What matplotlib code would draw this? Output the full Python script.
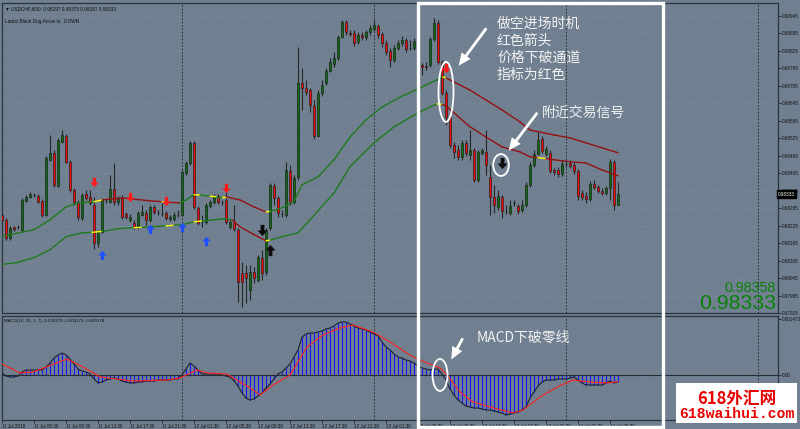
import numpy as np
import matplotlib
matplotlib.use("Agg")
import matplotlib.pyplot as plt
from matplotlib.patches import Rectangle, Ellipse, FancyArrowPatch
from matplotlib.collections import LineCollection
from matplotlib.path import Path
from matplotlib.transforms import blended_transform_factory

plt.rcParams['font.family'] = ['Noto Sans CJK SC', 'DejaVu Sans']

# USDCHF M30 candles, 11 Jul 01:30 onwards (one per bar)
opens = [0.98262, 0.98245, 0.98183, 0.98221, 0.98221, 0.98211, 0.98310, 0.98324, 0.98331, 0.98327,
         0.98310, 0.98262, 0.98451, 0.98475, 0.98361, 0.98512, 0.98533, 0.98444, 0.98348, 0.98307,
         0.98252, 0.98334, 0.98324, 0.98296, 0.98166, 0.98204, 0.98310, 0.98307, 0.98351, 0.98307,
         0.98320, 0.98266, 0.98245, 0.98235, 0.98221, 0.98262, 0.98269, 0.98245, 0.98289, 0.98269,
         0.98266, 0.98269, 0.98248, 0.98248, 0.98262, 0.98262, 0.98406, 0.98440, 0.98509, 0.98286,
         0.98238, 0.98238, 0.98293, 0.98307, 0.98327, 0.98307, 0.98313, 0.98221, 0.98238, 0.98211,
         0.98063, 0.98063, 0.98005, 0.98067, 0.98039, 0.98115, 0.98067, 0.98218, 0.98361, 0.98320,
         0.98266, 0.98262, 0.98413, 0.98307, 0.98392, 0.98714, 0.98697, 0.98690, 0.98636, 0.98533,
         0.98680, 0.98714, 0.98756, 0.98780, 0.98800, 0.98872, 0.98924, 0.98886, 0.98886, 0.98855,
         0.98879, 0.98872, 0.98889, 0.98900, 0.98910, 0.98882, 0.98852, 0.98824, 0.98793, 0.98834,
         0.98852, 0.98862, 0.98834, 0.98834, 0.98834, 0.98776, 0.98773, 0.98776, 0.98865, 0.98920,
         0.98786, 0.98680, 0.98598, 0.98502, 0.98485, 0.98461, 0.98509, 0.98468, 0.98485, 0.98382,
         0.98475, 0.98478, 0.98392, 0.98324, 0.98289, 0.98324, 0.98276, 0.98269, 0.98303, 0.98293,
         0.98279, 0.98296, 0.98365, 0.98433, 0.98471, 0.98523, 0.98471, 0.98475, 0.98416, 0.98416,
         0.98403, 0.98437, 0.98440, 0.98433, 0.98413, 0.98337, 0.98327, 0.98317, 0.98368, 0.98358,
         0.98344, 0.98337, 0.98355, 0.98444, 0.98297]
highs = [0.98269, 0.98252, 0.98224, 0.98224, 0.98228, 0.98320, 0.98331, 0.98341, 0.98337, 0.98334,
         0.98317, 0.98464, 0.98536, 0.98485, 0.98526, 0.98553, 0.98540, 0.98451, 0.98355, 0.98313,
         0.98337, 0.98348, 0.98348, 0.98324, 0.98211, 0.98320, 0.98317, 0.98399, 0.98440, 0.98327,
         0.98331, 0.98272, 0.98266, 0.98245, 0.98276, 0.98296, 0.98279, 0.98296, 0.98296, 0.98279,
         0.98303, 0.98276, 0.98262, 0.98272, 0.98279, 0.98416, 0.98447, 0.98516, 0.98516, 0.98293,
         0.98262, 0.98303, 0.98313, 0.98334, 0.98334, 0.98313, 0.98341, 0.98245, 0.98296, 0.98218,
         0.98101, 0.98091, 0.98091, 0.98084, 0.98125, 0.98142, 0.98218, 0.98372, 0.98372, 0.98327,
         0.98279, 0.98444, 0.98433, 0.98399, 0.98838, 0.98766, 0.98725, 0.98697, 0.98656, 0.98690,
         0.98725, 0.98766, 0.98800, 0.98821, 0.98879, 0.98930, 0.98930, 0.98896, 0.98896, 0.98889,
         0.98889, 0.98896, 0.98913, 0.98930, 0.98917, 0.98889, 0.98862, 0.98834, 0.98845, 0.98862,
         0.98876, 0.98869, 0.98862, 0.98869, 0.98841, 0.98783, 0.98786, 0.98872, 0.98937, 0.98930,
         0.98793, 0.98690, 0.98605, 0.98512, 0.98502, 0.98519, 0.98519, 0.98553, 0.98492, 0.98485,
         0.98492, 0.98553, 0.98433, 0.98365, 0.98348, 0.98331, 0.98296, 0.98313, 0.98313, 0.98300,
         0.98313, 0.98375, 0.98444, 0.98485, 0.98547, 0.98533, 0.98499, 0.98485, 0.98423, 0.98427,
         0.98451, 0.98451, 0.98451, 0.98444, 0.98420, 0.98348, 0.98341, 0.98379, 0.98382, 0.98365,
         0.98355, 0.98361, 0.98454, 0.98451, 0.98373]
lows = [0.98238, 0.98176, 0.98176, 0.98207, 0.98214, 0.98207, 0.98307, 0.98320, 0.98324, 0.98303,
        0.98255, 0.98259, 0.98447, 0.98358, 0.98358, 0.98509, 0.98440, 0.98341, 0.98296, 0.98245,
        0.98245, 0.98313, 0.98296, 0.98145, 0.98152, 0.98200, 0.98303, 0.98303, 0.98296, 0.98296,
        0.98248, 0.98248, 0.98238, 0.98214, 0.98214, 0.98259, 0.98228, 0.98238, 0.98266, 0.98262,
        0.98259, 0.98245, 0.98242, 0.98242, 0.98255, 0.98259, 0.98399, 0.98433, 0.98283, 0.98228,
        0.98221, 0.98231, 0.98286, 0.98300, 0.98300, 0.98296, 0.98231, 0.98214, 0.98207, 0.97964,
        0.97947, 0.97960, 0.97971, 0.98029, 0.98032, 0.98039, 0.98056, 0.98211, 0.98296, 0.98255,
        0.98255, 0.98255, 0.98296, 0.98300, 0.98382, 0.98622, 0.98673, 0.98615, 0.98523, 0.98529,
        0.98670, 0.98708, 0.98752, 0.98769, 0.98793, 0.98869, 0.98879, 0.98876, 0.98841, 0.98848,
        0.98862, 0.98862, 0.98879, 0.98893, 0.98869, 0.98838, 0.98810, 0.98769, 0.98786, 0.98827,
        0.98841, 0.98821, 0.98827, 0.98827, 0.98773, 0.98742, 0.98759, 0.98769, 0.98858, 0.98780,
        0.98673, 0.98571, 0.98492, 0.98457, 0.98451, 0.98451, 0.98464, 0.98451, 0.98375, 0.98375,
        0.98468, 0.98399, 0.98262, 0.98269, 0.98279, 0.98252, 0.98266, 0.98262, 0.98293, 0.98266,
        0.98272, 0.98289, 0.98358, 0.98427, 0.98468, 0.98475, 0.98464, 0.98406, 0.98399, 0.98392,
        0.98396, 0.98427, 0.98423, 0.98403, 0.98313, 0.98313, 0.98303, 0.98310, 0.98351, 0.98337,
        0.98331, 0.98331, 0.98313, 0.98279, 0.98297]
closes = [0.98245, 0.98183, 0.98218, 0.98214, 0.98219, 0.98313, 0.98324, 0.98334, 0.98329, 0.98307,
          0.98262, 0.98457, 0.98475, 0.98365, 0.98519, 0.98536, 0.98444, 0.98348, 0.98307, 0.98255,
          0.98331, 0.98320, 0.98303, 0.98166, 0.98204, 0.98313, 0.98308, 0.98351, 0.98307, 0.98317,
          0.98255, 0.98255, 0.98255, 0.98221, 0.98269, 0.98272, 0.98245, 0.98289, 0.98272, 0.98267,
          0.98264, 0.98252, 0.98255, 0.98262, 0.98260, 0.98409, 0.98440, 0.98509, 0.98289, 0.98235,
          0.98236, 0.98296, 0.98307, 0.98327, 0.98307, 0.98305, 0.98238, 0.98238, 0.98214, 0.98032,
          0.98032, 0.98046, 0.98067, 0.98046, 0.98118, 0.98063, 0.98211, 0.98365, 0.98320, 0.98269,
          0.98264, 0.98416, 0.98307, 0.98389, 0.98714, 0.98697, 0.98684, 0.98639, 0.98533, 0.98680,
          0.98708, 0.98756, 0.98786, 0.98800, 0.98872, 0.98924, 0.98889, 0.98884, 0.98852, 0.98879,
          0.98872, 0.98889, 0.98903, 0.98913, 0.98879, 0.98852, 0.98821, 0.98793, 0.98834, 0.98852,
          0.98862, 0.98831, 0.98833, 0.98858, 0.98780, 0.98769, 0.98771, 0.98865, 0.98920, 0.98786,
          0.98680, 0.98598, 0.98502, 0.98478, 0.98461, 0.98509, 0.98475, 0.98485, 0.98382, 0.98478,
          0.98485, 0.98433, 0.98324, 0.98296, 0.98327, 0.98276, 0.98274, 0.98293, 0.98301, 0.98276,
          0.98296, 0.98365, 0.98433, 0.98471, 0.98519, 0.98481, 0.98488, 0.98413, 0.98409, 0.98403,
          0.98437, 0.98435, 0.98430, 0.98413, 0.98327, 0.98324, 0.98317, 0.98368, 0.98358, 0.98344,
          0.98337, 0.98355, 0.98444, 0.98296, 0.98333]

# channel (upper / lower), knots at bar positions; segment colour g/r/y
upper_idx = [-0.5, 8, 12, 16, 19, 23, 25, 30, 37, 40, 41.5, 44.5, 46, 48, 49.5, 52, 53.5, 55, 56, 59.5,
             63, 66, 67, 69.5, 73, 75, 79, 83, 87, 91, 95, 99.5, 104, 107, 110.25, 111, 117, 121, 125,
             129.5, 132, 138, 142, 146, 150, 154]
upper_vals = [0.98187, 0.98211, 0.98245, 0.98289, 0.98303, 0.98307, 0.98313, 0.98320, 0.98310, 0.98307,
              0.98305, 0.98303, 0.98313, 0.98331, 0.98330, 0.98326, 0.98324, 0.98324, 0.98324, 0.98313,
              0.98289, 0.98272, 0.98274, 0.98283, 0.98307, 0.98365, 0.98392, 0.98451, 0.98529, 0.98588,
              0.98632, 0.98666, 0.98694, 0.98714, 0.98735, 0.98732, 0.98690, 0.98656, 0.98622, 0.98581,
              0.98553, 0.98536, 0.98526, 0.98509, 0.98492, 0.98475]
upper_cols = list("ggggg" "y" "rrr" "y" "r" "gg" "y" "g" "y" "g" "y" "rrr" "y"
                  "gggggggggggg" "y" "rrrrrrrrrr")
lower_idx = [-0.5, 3.75, 8, 12, 16, 20, 22.5, 25, 29, 33, 35, 37, 41, 43, 45, 48, 50, 53, 55, 57.5,
             59.5, 63, 66, 67, 70, 74, 77, 83, 87, 93, 98, 104, 107, 108.75, 110, 111, 113, 117, 121,
             125, 129.5, 132, 134, 136, 138, 142, 146, 150, 154]
lower_vals = [0.98091, 0.98098, 0.98115, 0.98142, 0.98187, 0.98200, 0.98202, 0.98205, 0.98214, 0.98218,
              0.98219, 0.98221, 0.98224, 0.98226, 0.98228, 0.98238, 0.98241, 0.98245, 0.98248, 0.98245,
              0.98221, 0.98194, 0.98173, 0.98175, 0.98187, 0.98200, 0.98245, 0.98337, 0.98427, 0.98509,
              0.98564, 0.98612, 0.98632, 0.98643, 0.98641, 0.98636, 0.98612, 0.98564, 0.98529, 0.98495,
              0.98478, 0.98461, 0.98458, 0.98455, 0.98451, 0.98444, 0.98440, 0.98416, 0.98396]
lower_cols = list("gggggg" "y" "gg" "y" "gg" "y" "gg" "y" "ggg" "rrr" "y"
                  "gggggggggg" "y" "rrrrrrrr" "y" "rrrrr")

# signal arrows (bar, price)
red_dn_idx = [23, 32, 41, 56, 111]
red_dn_px = [0.98375, 0.98324, 0.98310, 0.98355, 0.98766]
blue_up_idx = [25, 37, 45, 51]
blue_up_px = [0.98125, 0.98214, 0.98221, 0.98173]
black_dn_idx = [65, 125]
black_dn_px = [0.98211, 0.98440]
black_up_idx = [67]
black_up_px = [0.98142]

# MACD(10,20,1,7)
macd = [0.000053, -0.000026, -0.000053, -0.000053, -0.000026, 0.000079, 0.000132, 0.000132, 0.000132, 0.000132,
        0.000132, 0.000210, 0.000316, 0.000447, 0.000526, 0.000579, 0.000526, 0.000421, 0.000289, 0.000158,
        0.000105, 0.000079, 0.000026, -0.000105, -0.000210, -0.000184, -0.000132, -0.000105, -0.000079, -0.000105,
        -0.000158, -0.000184, -0.000210, -0.000210, -0.000184, -0.000184, -0.000158, -0.000158, -0.000158, -0.000132,
        -0.000132, -0.000132, -0.000132, -0.000105, -0.000105, 0.000005, 0.000158, 0.000316, 0.000237, 0.000132,
        0.000026, 0.000026, 0.000026, 0.000026, 0.000026, -0.000005, -0.000026, -0.000053, -0.000158, -0.000289,
        -0.000473, -0.000605, -0.000658, -0.000631, -0.000552, -0.000473, -0.000342, -0.000237, -0.000105, 0.000026,
        0.000079, 0.000184, 0.000289, 0.000473, 0.000658, 0.000999, 0.001078, 0.001105, 0.001105, 0.001131,
        0.001157, 0.001210, 0.001236, 0.001289, 0.001368, 0.001394, 0.001394, 0.001341, 0.001289, 0.001236,
        0.001210, 0.001184, 0.001131, 0.001078, 0.001026, 0.000868, 0.000736, 0.000658, 0.000552, 0.000473,
        0.000447, 0.000395, 0.000368, 0.000316, 0.000237, 0.000184, 0.000158, 0.000132, 0.000158, 0.000158,
        0.000026, -0.000132, -0.000368, -0.000526, -0.000658, -0.000736, -0.000815, -0.000842, -0.000868, -0.000868,
        -0.000894, -0.000921, -0.000921, -0.000947, -0.000973, -0.000999, -0.001052, -0.001026, -0.000999, -0.000973,
        -0.000921, -0.000842, -0.000605, -0.000447, -0.000289, -0.000184, -0.000132, -0.000132, -0.000132, -0.000105,
        -0.000105, -0.000105, -0.000079, -0.000053, -0.000132, -0.000210, -0.000263, -0.000263, -0.000263, -0.000263,
        -0.000263, -0.000210, -0.000158, -0.000210, -0.000179]
sig_idx = [-0.5, 4.5, 7.75, 16.25, 20.25, 24.5, 28.75, 32.75, 41.25, 44.5, 48.75, 51.25, 56.25, 59.5, 62,
           64.5, 67.75, 72, 76.25, 80.25, 84.5, 87.75, 92.75, 97, 102.75, 106.25, 109.5, 111.25, 114.5,
           117.75, 122, 127.75, 130.25, 134.5, 138.75, 142.75, 147, 151.25, 154]
sig_vals = [0.000316, 0.000053, 0.000079, 0.000421, 0.000210, -0.000053, -0.000105, -0.000158, -0.000132,
            -0.000079, 0.000132, 0.000053, 0.000026, -0.000184, -0.000342, -0.000526, -0.000263, 0.0,
            0.000736, 0.001052, 0.001236, 0.001315, 0.001131, 0.000868, 0.000473, 0.000316, 0.000184, 0.0,
            -0.000447, -0.000710, -0.000842, -0.000999, -0.000921, -0.000579, -0.000316, -0.000132,
            -0.000184, -0.000210, -0.000178]

price_ticks = [0.97925, 0.97985, 0.98045, 0.98105, 0.98165, 0.98225, 0.98285, 0.98345, 0.98405,
               0.98465, 0.98525, 0.98585, 0.98645, 0.98705, 0.98765, 0.98825, 0.98885, 0.98945]
time_labels = ["11 Jul 2018", "11 Jul 05:30", "11 Jul 09:30", "11 Jul 13:30", "11 Jul 17:30",
               "11 Jul 21:30", "12 Jul 01:30", "12 Jul 05:30", "12 Jul 09:30", "12 Jul 13:30",
               "12 Jul 17:30", "12 Jul 21:30", "13 Jul 01:30", "13 Jul 05:30", "13 Jul 09:30",
               "13 Jul 13:30", "13 Jul 17:30", "13 Jul 21:30", "14 Jul 01:30", "14 Jul 05:30"]
day_starts = [45, 93, 141, 189]
bid, ask = 0.98333, 0.98358

BG = '#708090'
GRID = '#8595a7'
W, H = 800, 429
fig = plt.figure(figsize=(8, 4.29), dpi=100, facecolor=BG)


def pane(x0, y0, x1, y1):
    a = fig.add_axes([x0 / W, 1 - y1 / H, (x1 - x0) / W, (y1 - y0) / H])
    a.set_facecolor(BG)
    for s in a.spines.values():
        s.set_color('#2b333c')
        s.set_linewidth(0.9)
    a.set_xlim(0, 194)
    return a


ax = pane(2, 3, 778, 313)
ax2 = pane(2, 316, 778, 420)
ax.set_ylim(0.97926, 0.98989)
ax2.set_ylim(-0.001184, 0.001552)

# grid and day separators
for a in (ax, ax2):
    for gx in range(0, 194, 8):
        a.axvline(gx, color=GRID, lw=0.5, ls=(0, (1, 2)), zorder=0.5)
    for d in day_starts:
        a.axvline(d, color='#1b1f24', lw=0.6, ls=(0, (2, 2)), zorder=0.6)
for gy in price_ticks:
    ax.axhline(gy, color=GRID, lw=0.5, ls=(0, (1, 2)), zorder=0.5)

# candles
x = np.arange(len(opens))
o, h, l, c = map(np.array, (opens, highs, lows, closes))
up = c > o
ax.vlines(x, l, h, color='#262626', lw=0.8, zorder=3)
ax.bar(x, np.abs(c - o), bottom=np.minimum(o, c), width=0.72,
       color=np.where(up, '#0b700b', '#ff0a0a'), edgecolor='#1a1a1a', linewidth=0.45, zorder=4)

# channel
band_color = {'g': '#1f7a1f', 'r': '#941212', 'y': '#ffff00'}


def draw_band(idx, vals, cols):
    pts = np.column_stack([idx, vals])
    segs = np.stack([pts[:-1], pts[1:]], axis=1)
    ax.add_collection(LineCollection(segs, colors=[band_color[k] for k in cols],
                                     linewidths=1.0, capstyle='round', zorder=5))


draw_band(upper_idx, upper_vals, upper_cols)
draw_band(lower_idx, lower_vals, lower_cols)

# arrows
dn = Path([(-0.17, 0.5), (0.17, 0.5), (0.17, 0.0), (0.45, 0.0), (0.0, -0.5),
           (-0.45, 0.0), (-0.17, 0.0), (-0.17, 0.5)], closed=True)
upm = Path([(vx, -vy) for vx, vy in dn.vertices], closed=True)
ax.scatter(red_dn_idx, red_dn_px, marker=dn, s=45, color='#ff1a1a', zorder=6, linewidths=0)
ax.scatter(blue_up_idx, blue_up_px, marker=upm, s=45, color='#1f4fff', zorder=6, linewidths=0)
ax.scatter(black_dn_idx, black_dn_px, marker=dn, s=65, color='#0d0d0d', zorder=6, linewidths=0)
ax.scatter(black_up_idx, black_up_px, marker=upm, s=65, color='#0d0d0d', zorder=6, linewidths=0)

# price axis
ax.yaxis.tick_right()
ax.set_yticks(price_ticks)
ax.set_yticklabels([f"{p:.5f}" for p in price_ticks])
ax.set_xticks([])
ax.tick_params(axis='y', labelsize=3.3, length=2, pad=1, colors='#111111', width=0.5)
for t in ax.get_yticklabels():
    t.set_family('Liberation Sans')
ax.text(1.0, bid, f"{bid:.5f}", transform=blended_transform_factory(ax.transAxes, ax.transData),
        ha='left', va='center', fontsize=3.3, color='white', family='Liberation Sans', zorder=10,
        clip_on=False, bbox=dict(boxstyle='square,pad=0.25', fc='black', ec='black'))

# header texts
ax.text(0.004, 0.99, f"\u25bc USDCHF,M30  {o[-1]:.5f} {h[-1]:.5f} {l[-1]:.5f} {c[-1]:.5f}",
        transform=ax.transAxes, ha='left', va='top', fontsize=3.4, color='#101010',
        family=['Liberation Sans', 'DejaVu Sans'])
ax.text(0.004, 0.95, "Latest Black Dog Arrow is:  DOWN", transform=ax.transAxes, ha='left', va='top',
        fontsize=3.4, color='#101010', family='Liberation Sans')

# MACD pane
ax2.vlines(x, 0, macd, color='#1414ff', lw=0.75, zorder=2)
ax2.plot(x, macd, color='#1c2030', lw=0.8, zorder=3)
ax2.plot(sig_idx, sig_vals, color='#ff2020', lw=0.8, zorder=4)
ax2.axhline(0, color='#262b33', lw=0.8, zorder=3)
ax2.yaxis.tick_right()
ax2.set_yticks([0.001473, 0.0])
ax2.set_yticklabels(['0.001473', '0.00'])
ax2.set_xticks(np.arange(0, 8 * len(time_labels), 8))
ax2.set_xticklabels(time_labels)
ax2.tick_params(labelsize=3.3, length=2, pad=1, colors='#111111', width=0.5)
for t in ax2.get_xticklabels():
    t.set_horizontalalignment('left')
    t.set_family('Liberation Sans')
for t in ax2.get_yticklabels():
    t.set_family('Liberation Sans')
ax2.text(0.003, 0.97, "MACD(10, 20, 1, 7) -0.000179 -0.000179 -0.000178", transform=ax2.transAxes,
         ha='left', va='top', fontsize=3.2, color='#101010', family='Liberation Sans')

# annotations
TXT = '#f2f2f2'
ax.add_patch(Ellipse((111, 0.98684), 3.75, 0.00206, fill=False, ec='white', lw=1.3, zorder=8))
ax.add_patch(Ellipse((124.75, 0.98433), 3.9, 0.00075, fill=False, ec='white', lw=1.3, zorder=8))
ax2.add_patch(Ellipse((109.5, 0.0), 3.75, 0.00084, fill=False, ec='white', lw=1.3, zorder=8))
style = 'simple,head_length=0.9,head_width=0.8,tail_width=0.2'
ax.add_patch(FancyArrowPatch((121.5, 0.98910), (113.75, 0.98766), arrowstyle=style,
                             mutation_scale=10, color='white', lw=0, zorder=9))
ax.add_patch(FancyArrowPatch((134.25, 0.98620), (126.25, 0.98475), arrowstyle=style,
                             mutation_scale=10, color='white', lw=0, zorder=9))
ax2.add_patch(FancyArrowPatch((115.5, 0.001030), (112, 0.000342), arrowstyle=style,
                              mutation_scale=10, color='white', lw=0, zorder=9))
ax.text(123.75, 0.98942, "做空进场时机\n红色箭头\n价格下破通道\n指标为红色", color=TXT, fontsize=10,
        ha='left', va='top', linespacing=1.28, zorder=9)
ax.text(135, 0.98637, "附近交易信号", color=TXT, fontsize=10, ha='left', va='top', zorder=9)
ax2.text(118.75, 0.00117, "MACD下破零线", color=TXT, fontsize=10, ha='left', va='top', zorder=9)

# overlay: highlight frame, bid/ask, watermark
ov = fig.add_axes([0, 0, 1, 1])
ov.set_xlim(0, W)
ov.set_ylim(H, 0)
ov.axis('off')
ov.add_patch(Rectangle((418, 2.5), 245, 424.5, fill=False, ec='white', lw=2.4))
ov.text(776, 292.5, f"{ask:.5f}", ha='right', va='baseline', fontsize=10.3, color='#0a800a',
        family='Liberation Sans')
ov.text(776, 309, f"{bid:.5f}", ha='right', va='baseline', fontsize=15.3, color='#0a800a',
        family='Liberation Sans')
ov.add_patch(Rectangle((676, 383), 121, 40, fc='white', ec='none'))
ov.text(736.5, 399, "618外汇网", ha='center', va='center', fontsize=12, color='#e80000',
        fontweight='bold')
ov.text(736.5, 414, "618waihui.com", ha='center', va='center', fontsize=10.6, color='#e80000',
        family='Liberation Mono', fontweight='bold')

fig.savefig('out.png', dpi=100, facecolor=BG)
